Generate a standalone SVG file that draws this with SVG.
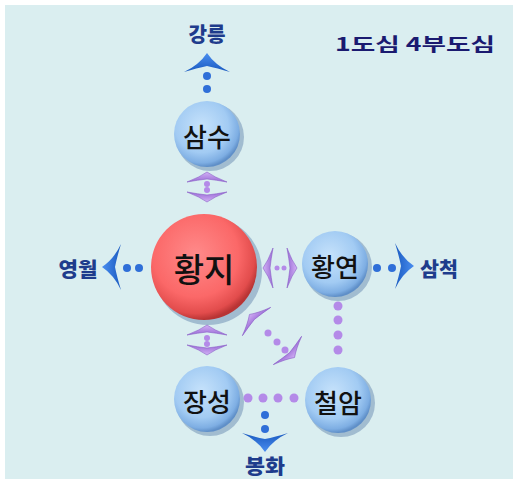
<svg xmlns="http://www.w3.org/2000/svg" width="513" height="479" viewBox="0 0 513 479">
<defs>
<radialGradient id="gBlue" cx="0.42" cy="0.38" r="0.62">
<stop offset="0" stop-color="#c6e2fb"/>
<stop offset="0.65" stop-color="#a2cbf3"/>
<stop offset="0.9" stop-color="#7eaee3"/>
<stop offset="1" stop-color="#5f8fc8"/>
</radialGradient>
<radialGradient id="gRed" cx="0.42" cy="0.38" r="0.62">
<stop offset="0" stop-color="#ff8a8a"/>
<stop offset="0.65" stop-color="#fb6868"/>
<stop offset="0.9" stop-color="#e24c4c"/>
<stop offset="1" stop-color="#b83434"/>
</radialGradient>
<linearGradient id="gArrB" x1="0" y1="0" x2="0" y2="1">
<stop offset="0" stop-color="#4a8ef0"/>
<stop offset="1" stop-color="#1a5ac0"/>
</linearGradient>
<linearGradient id="gArrP" x1="0" y1="0" x2="0" y2="1">
<stop offset="0" stop-color="#d2b0f5"/>
<stop offset="1" stop-color="#9a6cd6"/>
</linearGradient>
<path id="chev" d="M-23,9 Q-8,2 0,-10 Q8,2 23,9 Q10,5 0,3 Q-10,5 -23,9 Z"/>
<path id="chevS" d="M-20,5 Q-7,0 0,-5 Q7,0 20,5 Q9,3 0,2 Q-9,3 -20,5 Z"/>
</defs>
<style>
.node circle.sh{fill:#5a7fa8;opacity:0.45}
.node circle.b{fill:url(#gBlue)}
.node circle.r{fill:url(#gRed)}
.nt{font-family:"Noto Sans CJK KR","Noto Sans",sans-serif;font-weight:500;fill:#111;text-anchor:middle;dominant-baseline:central}
.lbl{font-family:"Noto Sans CJK KR","Noto Sans",sans-serif;font-weight:900;fill:#1e3c8c;text-anchor:middle;dominant-baseline:central;font-size:20px}
.pd{fill:#b48ae8}
.bd{fill:#2f6fd8}
.pa{fill:url(#gArrP);stroke:#8a5cc8;stroke-width:0.6}
.ba{fill:url(#gArrB)}
</style>
<rect x="0" y="0" width="513" height="479" fill="#ffffff"/>
<rect x="5" y="5" width="508" height="474" fill="#daeef0"/>
<text x="335" y="43" textLength="160" lengthAdjust="spacingAndGlyphs" font-family="'Noto Sans CJK KR','Noto Sans',sans-serif" font-weight="700" font-size="18" fill="#1a1a70" dominant-baseline="central">1도심 4부도심</text>

<g id="connectors">
<use href="#chev" transform="translate(207,63)" class="ba"/>
<circle cx="207" cy="76" r="4" class="bd"/>
<circle cx="207" cy="89" r="4" class="bd"/>
<use href="#chevS" transform="translate(207,177)" class="pa"/>
<circle cx="207" cy="184" r="3" class="pd"/>
<circle cx="207" cy="190" r="3" class="pd"/>
<use href="#chevS" transform="translate(207,197) rotate(180)" class="pa"/>
<use href="#chev" transform="translate(112,267) rotate(-90)" class="ba"/>
<circle cx="127" cy="268" r="4" class="bd"/>
<circle cx="139" cy="268" r="4" class="bd"/>
<use href="#chevS" transform="translate(268,268) rotate(-90)" class="pa"/>
<circle cx="277" cy="268" r="2.5" class="pd"/>
<circle cx="284" cy="268" r="2.5" class="pd"/>
<use href="#chevS" transform="translate(292,268) rotate(90)" class="pa"/>
<circle cx="377" cy="268" r="4" class="bd"/>
<circle cx="392" cy="268" r="4" class="bd"/>
<use href="#chev" transform="translate(404,266) rotate(90)" class="ba"/>
<circle cx="338" cy="306" r="4.5" class="pd"/>
<circle cx="338" cy="320" r="4.5" class="pd"/>
<circle cx="338" cy="335" r="4.5" class="pd"/>
<circle cx="338" cy="350" r="4.5" class="pd"/>
<use href="#chevS" transform="translate(207,330)" class="pa"/>
<circle cx="207" cy="338" r="3" class="pd"/>
<circle cx="207" cy="344" r="3" class="pd"/>
<use href="#chevS" transform="translate(207,350) rotate(180)" class="pa"/>
<use href="#chevS" transform="translate(253,318) rotate(-45)" class="pa"/>
<circle cx="268" cy="333" r="3.5" class="pd"/>
<circle cx="277" cy="342" r="3.5" class="pd"/>
<circle cx="285" cy="350" r="3.5" class="pd"/>
<use href="#chevS" transform="translate(291,354) rotate(135)" class="pa"/>
<circle cx="248" cy="398" r="4.5" class="pd"/>
<circle cx="263" cy="398" r="4.5" class="pd"/>
<circle cx="278" cy="398" r="4.5" class="pd"/>
<circle cx="294" cy="398" r="4.5" class="pd"/>
<circle cx="265" cy="415" r="4" class="bd"/>
<circle cx="265" cy="429" r="4" class="bd"/>
<use href="#chev" transform="translate(265,442) rotate(180)" class="ba"/>
</g>

<text class="lbl" x="207" y="33" textLength="37" lengthAdjust="spacingAndGlyphs">강릉</text>
<text class="lbl" x="78" y="268" textLength="39" lengthAdjust="spacingAndGlyphs">영월</text>
<text class="lbl" x="439" y="268" textLength="38" lengthAdjust="spacingAndGlyphs">삼척</text>
<text class="lbl" x="265" y="465" textLength="40" lengthAdjust="spacingAndGlyphs">봉화</text>

<g id="node-samsu" class="node">
<circle class="sh" cx="210" cy="137" r="34"/>
<circle class="b" cx="207" cy="134" r="33"/>
<text class="nt" x="207" y="135" font-size="26">삼수</text>
</g>
<g id="node-hwangji" class="node">
<circle class="sh" cx="208" cy="271" r="54"/>
<circle class="r" cx="204" cy="267" r="53"/>
<text class="nt" x="204" y="268" font-size="33">황지</text>
</g>
<g id="node-hwangyeon" class="node">
<circle class="sh" cx="338" cy="267" r="34"/>
<circle class="b" cx="335" cy="264" r="33"/>
<text class="nt" x="335" y="265" font-size="26">황연</text>
</g>
<g id="node-jangseong" class="node">
<circle class="sh" cx="210" cy="402" r="34"/>
<circle class="b" cx="207" cy="399" r="33"/>
<text class="nt" x="207" y="400" font-size="26">장성</text>
</g>
<g id="node-cheoram" class="node">
<circle class="sh" cx="341" cy="403" r="34"/>
<circle class="b" cx="338" cy="400" r="33"/>
<text class="nt" x="338" y="401" font-size="26">철암</text>
</g>
</svg>
